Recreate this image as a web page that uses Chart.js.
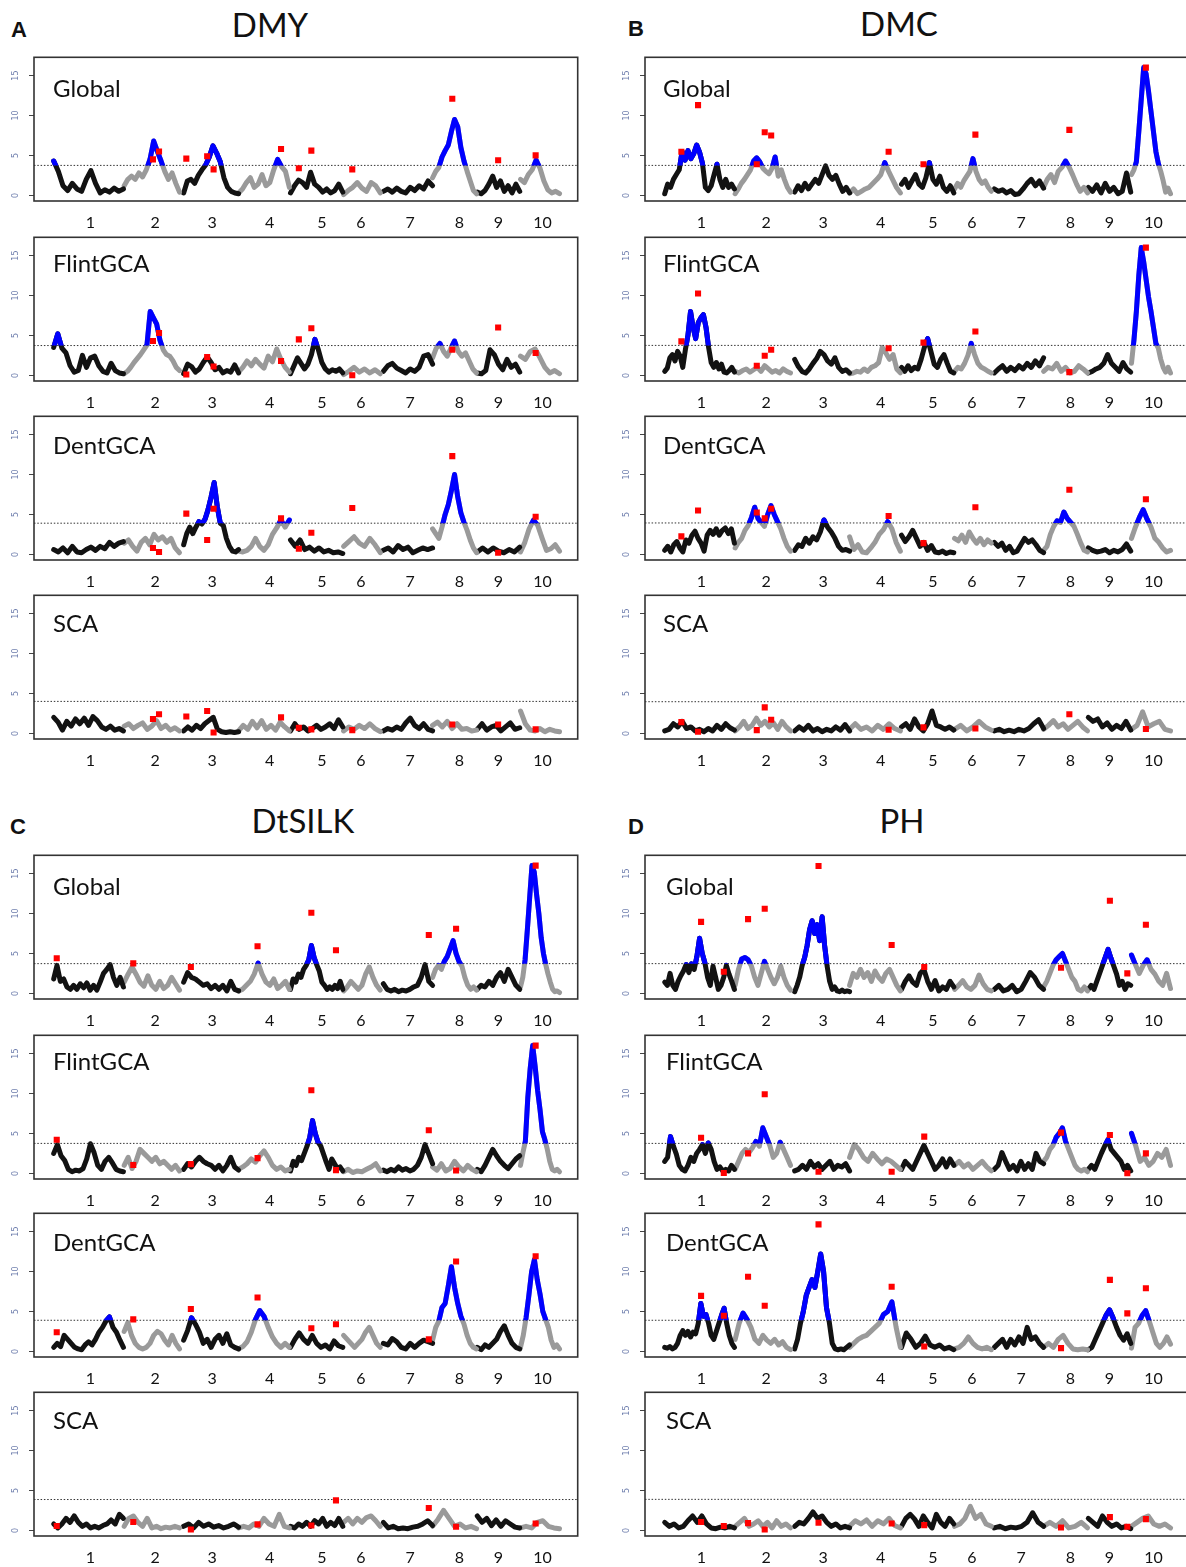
<!DOCTYPE html>
<html><head><meta charset="utf-8">
<script src="https://cdn.jsdelivr.net/npm/chart.js@4.4.1/dist/chart.umd.min.js"></script>
<style>
html,body{margin:0;padding:0;background:#fff;}
#page{position:relative;width:1186px;height:1567px;overflow:hidden;background:#fff;}
canvas{position:absolute;}
.t{position:absolute;transform:translate(-50%,-50%);font-family:Lato,'Open Sans',sans-serif;color:#111;white-space:nowrap;line-height:1;}
.title{font-size:33px;}
.letter{font-family:'Liberation Sans',Arial,sans-serif;font-weight:bold;font-size:22px;}
.pop{position:absolute;transform:translateY(-50%);font-family:Lato,sans-serif;font-size:24px;color:#111;line-height:1;white-space:nowrap;}
</style></head><body><div id="page"></div>
<script>
// ---------- shared axis data ----------
const traits = ['DMY', 'DMC', 'DtSILK', 'PH'];
const panelLetters = ['A', 'B', 'C', 'D'];
const populations = ['Global', 'FlintGCA', 'DentGCA', 'SCA'];
const chromNames = ['1','2','3','4','5','6','7','8','9','10'];
const chromStart = [52, 238, 395, 540, 677, 817, 922, 1052, 1170, 1284];
const chromEnd   = [236, 384, 540, 674, 815, 914, 1052, 1168, 1282, 1387];
const chromLabelPos = [149, 320, 470, 622, 760, 863, 993, 1123, 1226, 1342];
const yTickValues = [0, 5, 10, 15];

// ---------- DMY ----------
const dmyThr = [3.75, 3.73, 3.9, 4.0];
const dmyQtlX = [314, 330, 402, 457, 474, 652, 699, 732, 840, 1104, 1225, 1324];
const dmyGlobalQtl = [4.5, 5.5, 4.6, 4.9, 3.25, 5.8, 3.4, 5.6, 3.25, 12.1, 4.4, 5.0];
const dmyFlintQtl = [4.3, 5.3, 0.1, 2.3, 1.1, 1.8, 4.5, 5.9, 0.0, 3.2, 6.0, 2.8];
const dmyDentQtl = [0.8, 0.3, 5.1, 1.8, 5.7, 4.5, 0.7, 2.7, 5.8, 12.3, 0.2, 4.7];
const dmySCAQtl = [1.8, 2.4, 2.1, 2.8, 0.1, 2.0, 0.7, 0.5, 0.4, 1.1, 1.1, 0.5];
const dmyGlobal = [
[4.3, 3.0, 1.2, 0.6, 1.5, 0.8, 0.5, 2.0, 3.1, 1.5, 0.3, 0.7, 0.4, 0.9, 0.5, 0.8],
[1.2, 2.0, 2.4, 2.0, 2.8, 2.3, 3.2, 4.5, 6.8, 5.5, 4.3, 3.0, 2.0, 2.8, 1.5, 0.4],
[0.3, 1.8, 2.0, 1.5, 2.5, 3.2, 3.8, 4.8, 6.2, 5.3, 4.2, 2.2, 1.0, 0.5, 0.3, 0.2],
[0.3, 0.8, 1.6, 2.2, 1.0, 1.4, 2.6, 1.2, 1.6, 3.2, 4.5, 3.6, 3.0, 1.0],
[0.3, 1.2, 1.9, 1.6, 1.0, 2.9, 1.4, 1.0, 0.4, 0.8, 0.3, 0.6, 1.4, 0.4],
[0.1, 0.6, 1.0, 1.6, 0.9, 0.5, 1.6, 1.2, 0.3],
[0.5, 0.8, 0.4, 0.9, 0.5, 0.3, 1.0, 0.6, 1.2, 0.8, 1.8, 1.2],
[2.2, 3.0, 3.5, 4.8, 5.6, 6.3, 8.0, 9.5, 8.6, 6.0, 4.3, 3.0, 1.8, 0.6, 0.2],
[0.4, 0.2, 0.6, 1.4, 2.4, 1.0, 1.8, 0.5, 1.2, 0.3, 1.4, 0.5],
[2.0, 1.6, 2.6, 3.2, 4.4, 3.4, 1.8, 0.7, 0.3, 0.5, 0.2]
];
const dmyFlint = [
[3.5, 5.2, 3.4, 2.8, 1.2, 0.4, 0.6, 2.5, 1.0, 2.2, 2.4, 1.2, 0.5, 0.3, 1.5, 0.6, 0.3, 0.2],
[0.2, 0.5, 1.0, 1.6, 2.1, 2.6, 3.2, 3.8, 8.0, 7.2, 6.4, 4.4, 3.2, 2.6, 2.4, 1.8, 1.0, 0.6],
[0.2, 1.4, 1.1, 0.4, 0.8, 1.6, 2.3, 1.6, 0.7, 1.0, 0.3, 0.6, 0.4, 1.3, 0.3],
[0.4, 1.0, 1.8, 1.2, 2.0, 1.4, 0.9, 2.4, 1.7, 3.3, 2.0, 1.0, 0.4],
[0.2, 1.2, 2.2, 1.5, 0.8, 1.4, 2.6, 4.5, 3.2, 1.6, 0.8, 0.4, 0.7, 0.5, 0.8, 0.3],
[0.1, 0.5, 1.0, 0.4, 0.8, 0.3, 0.7, 0.2],
[0.5, 1.2, 1.5, 0.9, 0.6, 0.3, 0.8, 0.5, 1.0, 2.4, 2.6, 1.4],
[2.2, 3.4, 4.0, 3.0, 2.4, 3.4, 4.3, 3.0, 2.4, 2.8, 1.8, 0.8, 0.3],
[0.3, 0.2, 0.6, 3.2, 2.6, 1.4, 0.7, 2.0, 1.0, 1.4, 0.4],
[2.4, 2.0, 3.0, 3.3, 2.2, 1.0, 0.3, 0.6, 0.2]
];
const dmyDent = [
[0.6, 0.3, 0.8, 0.2, 1.0, 0.3, 0.2, 0.6, 0.9, 0.5, 1.0, 0.7, 1.5, 1.0, 1.4, 1.6],
[1.4, 1.8, 1.0, 0.4, 1.5, 2.0, 1.2, 2.5, 1.8, 2.2, 1.5, 2.0, 0.8, 0.2],
[1.2, 2.6, 3.4, 2.6, 3.4, 4.1, 3.8, 4.4, 5.6, 7.2, 9.0, 6.0, 3.9, 3.6, 2.0, 1.0, 0.4, 0.3, 0.6],
[0.4, 0.3, 0.5, 1.0, 2.0, 1.0, 0.5, 1.2, 2.5, 3.3, 4.3, 3.4, 4.3],
[1.8, 1.0, 1.8, 0.6, 0.9, 0.4, 0.8, 0.3, 0.5, 0.2, 0.3, 0.1],
[1.0, 1.6, 2.2, 1.4, 1.0, 2.0, 1.2, 0.2],
[0.5, 0.8, 0.3, 1.1, 0.6, 0.9, 0.2, 0.5, 0.8, 0.6, 0.8],
[3.2, 2.6, 2.0, 3.4, 5.0, 6.2, 8.0, 10.0, 7.2, 5.2, 4.0, 3.0, 1.8, 0.8, 0.2],
[0.3, 0.8, 0.3, 0.8, 0.4, 0.2, 0.6, 0.3, 0.9],
[0.3, 1.5, 3.2, 4.3, 3.6, 2.0, 0.5, 0.7, 1.2, 0.4]
];
const dmySCA = [
[2.0, 1.4, 0.4, 1.5, 0.9, 1.8, 1.2, 1.9, 1.0, 2.1, 1.6, 0.8, 0.5, 0.9, 0.4, 0.6, 0.3],
[0.9, 1.2, 0.6, 1.0, 1.3, 0.5, 0.9, 1.6, 0.6, 1.0, 0.4, 0.7, 0.3],
[0.3, 0.8, 0.4, 1.0, 0.6, 1.2, 1.6, 2.0, 0.5, 0.2, 0.1, 0.2, 0.1, 0.2],
[0.3, 1.0, 0.5, 1.5, 0.7, 1.6, 0.5, 1.0, 0.4, 1.4, 0.8, 0.3],
[0.3, 1.2, 0.5, 0.8, 0.3, 0.6, 1.0, 0.5, 0.8, 1.2, 0.6, 1.7, 0.8],
[0.3, 0.8, 0.5, 1.0, 0.6, 1.2, 0.6, 0.2],
[0.3, 0.6, 0.4, 0.8, 0.5, 1.3, 1.9, 1.0, 0.6, 1.2, 0.5, 0.3],
[1.0, 1.4, 0.8, 1.5, 0.6, 1.2, 0.5, 0.6, 0.3, 0.4],
[0.5, 1.2, 0.4, 0.8, 1.0, 0.3, 0.8, 1.3, 0.5, 0.7],
[2.8, 1.2, 0.4, 0.3, 0.6, 0.2, 0.5, 0.3, 0.2]
];

// ---------- DMC ----------
const dmcThr = [3.75, 3.75, 3.93, 3.96];
const dmcQtlX = [96, 140, 295, 316, 333, 643, 735, 872, 1120, 1322];
const dmcGlobalQtl = [5.45, 11.3, 3.9, 7.9, 7.5, 5.45, 3.9, 7.6, 8.2, 16.0];
const dmcFlintQtl = [4.25, 10.25, 1.2, 2.45, 3.2, 3.4, 4.1, 5.5, 0.4, 16.0];
const dmcDentQtl = [2.25, 5.5, 5.25, 4.5, 5.7, 4.8, 1.4, 5.9, 8.1, 6.9];
const dmcSCAQtl = [1.4, 0.2, 0.4, 3.25, 1.7, 0.45, 0.75, 0.6, 2.4, 0.55];
const dmcGlobal = [
[0.2, 1.4, 1.0, 2.0, 2.6, 3.2, 5.5, 4.4, 5.6, 4.6, 5.2, 6.3, 5.4, 4.0, 1.0, 0.6, 1.2, 2.6, 3.9, 2.0, 1.0, 2.0, 1.0, 1.4, 0.8],
[0.2, 0.8, 1.5, 2.0, 2.6, 3.2, 4.3, 4.7, 4.2, 3.4, 3.0, 2.7, 3.4, 4.8, 2.4, 3.2, 2.0, 1.0, 0.4],
[0.4, 1.2, 0.6, 1.5, 0.8, 1.4, 2.0, 1.5, 2.6, 3.7, 2.5, 2.0, 2.5, 1.4, 0.5, 1.0, 0.3],
[0.3, 0.8, 0.2, 0.5, 0.8, 1.0, 1.5, 2.0, 2.6, 4.1, 3.0, 2.0, 1.0, 0.3],
[1.4, 2.0, 1.0, 1.8, 2.6, 1.4, 1.0, 2.2, 4.1, 2.0, 1.4, 2.4, 1.0, 0.5, 1.2, 0.3],
[0.8, 1.5, 1.0, 1.8, 2.4, 3.0, 4.6, 3.0, 2.0, 1.5, 1.8, 1.0, 0.5],
[0.8, 0.5, 0.7, 0.3, 0.6, 0.1, 0.2, 0.8, 1.5, 2.0, 1.2, 1.8, 0.9],
[1.0, 2.0, 2.6, 1.6, 3.0, 3.5, 4.3, 3.5, 2.5, 1.4, 0.5, 1.0, 0.3],
[1.0, 0.5, 1.3, 0.3, 1.5, 0.5, 1.0, 0.2, 0.5, 2.8, 0.4],
[2.6, 3.2, 4.2, 8.0, 12.0, 16.0, 15.2, 13.0, 10.5, 8.0, 5.5, 4.0, 3.0, 1.8, 0.4, 0.9, 0.2]
];
const dmcFlint = [
[0.5, 0.9, 2.2, 2.6, 1.8, 3.0, 2.4, 1.0, 3.2, 5.0, 8.0, 6.0, 4.6, 6.6, 7.2, 7.6, 6.0, 3.5, 1.6, 1.0, 1.6, 0.8, 1.4, 0.4, 0.3, 0.6, 1.0, 0.4],
[0.5, 0.3, 0.6, 0.8, 0.4, 0.7, 1.0, 0.5, 1.2, 0.8, 0.4, 0.6, 0.3, 0.8, 0.5, 0.3],
[2.0, 1.1, 0.5, 0.3, 0.8, 1.5, 2.1, 3.0, 2.6, 1.8, 1.4, 2.2, 1.0, 0.5, 0.7, 0.3],
[0.2, 0.3, 0.5, 0.4, 0.8, 0.5, 1.0, 1.2, 1.6, 3.5, 2.8, 2.0, 2.6, 0.8, 0.3],
[1.0, 0.5, 1.2, 0.6, 1.0, 0.8, 2.0, 3.5, 4.6, 3.0, 1.4, 1.0, 2.0, 2.6, 1.5, 0.5, 0.3],
[0.5, 1.0, 0.8, 1.5, 2.5, 4.0, 2.6, 1.5, 1.0, 0.8, 0.5, 0.3],
[0.3, 0.8, 1.2, 0.5, 1.0, 0.6, 1.2, 0.8, 1.5, 1.0, 1.8, 1.2, 2.2],
[0.5, 1.0, 0.8, 1.5, 0.5, 1.0, 0.3, 0.5, 1.2, 0.8, 0.3],
[0.3, 0.5, 0.8, 1.0, 1.5, 2.6, 1.5, 1.0, 0.5, 1.6, 0.8, 0.4],
[1.5, 4.4, 8.0, 12.5, 16.0, 14.2, 12.0, 9.8, 8.0, 6.0, 4.0, 3.4, 2.0, 1.0, 0.4, 1.0, 0.3]
];
const dmcDent = [
[0.5, 1.0, 0.3, 1.2, 1.6, 0.8, 0.3, 1.8, 1.4, 2.4, 2.9, 2.0, 1.4, 0.4, 2.4, 3.0, 2.5, 3.2, 2.4, 3.0, 3.3, 2.6, 3.2, 1.4],
[0.8, 1.5, 2.0, 3.0, 3.6, 4.6, 5.9, 4.5, 4.0, 3.5, 5.0, 6.1, 5.0, 4.1, 3.2, 2.0, 1.0, 0.4],
[0.5, 1.2, 1.0, 2.0, 1.4, 2.2, 1.8, 2.8, 4.3, 3.4, 2.8, 2.0, 1.0, 0.5, 0.6, 0.4],
[2.2, 0.6, 1.2, 0.3, 0.2, 0.8, 1.5, 2.5, 3.1, 4.1, 3.2, 1.5, 0.4],
[2.4, 1.6, 2.2, 3.0, 2.0, 1.0, 1.5, 0.5, 1.1, 0.3, 0.2, 0.4, 0.1, 0.3, 0.2],
[2.0, 1.7, 2.4, 1.5, 2.8, 2.0, 1.4, 2.0, 1.2, 1.8, 1.4],
[1.5, 1.0, 1.4, 0.5, 1.0, 0.2, 0.4, 1.2, 2.0, 1.5, 1.8, 1.2, 0.5, 0.2],
[0.5, 1.0, 2.5, 3.5, 4.2, 4.0, 5.3, 4.5, 4.0, 3.5, 2.5, 1.4, 0.5, 0.3],
[0.8, 0.5, 0.3, 0.4, 0.6, 0.2, 0.5, 0.3, 0.6, 1.3, 0.4],
[2.0, 3.4, 4.6, 5.6, 4.4, 3.4, 2.0, 1.5, 0.8, 0.3, 0.5]
];
const dmcSCA = [
[0.3, 0.5, 1.2, 0.8, 1.5, 0.6, 0.8, 0.3, 0.5, 0.2, 0.6, 0.3, 1.0, 0.5, 1.2, 0.7, 0.4],
[0.3, 0.8, 1.5, 0.6, 1.0, 1.9, 1.0, 1.5, 0.8, 1.3, 0.5, 1.5, 0.8, 0.3],
[0.3, 0.8, 0.4, 1.0, 0.3, 0.6, 0.2, 0.5, 0.3, 0.8, 0.4, 1.1, 0.3],
[0.5, 1.2, 0.5, 0.8, 0.3, 1.0, 0.5, 1.2, 0.6, 0.3],
[0.8, 1.2, 0.5, 1.8, 0.8, 0.3, 1.2, 2.8, 1.0, 0.8, 0.5, 0.8, 0.4],
[0.5, 1.0, 0.3, 0.8, 1.5, 0.8, 0.4],
[0.3, 0.5, 0.2, 0.4, 0.2, 0.5, 0.3, 0.6, 1.2, 1.7, 0.6],
[0.5, 1.0, 1.6, 0.8, 1.2, 0.5, 1.0, 1.5, 0.8, 0.3],
[2.0, 1.5, 1.8, 0.8, 1.3, 0.5, 1.0, 0.6, 1.5, 0.4],
[0.5, 1.0, 2.7, 0.8, 1.2, 1.5, 0.5, 0.3]
];

// ---------- DtSILK ----------
const dtsThr = [3.72, 3.75, 3.89, 3.86];
const dtsQtlX = [60, 262, 414, 590, 732, 797, 1042, 1114, 1324];
const dtsGlobalQtl = [4.4, 3.75, 3.3, 5.9, 10.1, 5.4, 7.3, 8.1, 16.0];
const dtsFlintQtl = [4.2, 1.05, 1.15, 1.9, 10.4, 0.4, 5.4, 0.35, 16.0];
const dtsDentQtl = [2.4, 4.0, 5.3, 6.75, 2.9, 3.4, 1.5, 11.25, 11.9];
const dtsSCAQtl = [0.55, 1.05, 0.1, 0.75, 0.6, 3.75, 2.8, 0.45, 0.85];
const dtsGlobal = [
[1.8, 3.5, 1.5, 1.8, 0.8, 0.5, 1.0, 0.5, 1.2, 0.7, 1.3, 0.4, 1.0, 0.4, 1.4, 2.5, 3.0, 3.6, 2.0, 1.0, 2.0, 0.8],
[1.4, 2.4, 3.3, 2.4, 1.4, 0.9, 2.2, 1.0, 0.5, 1.5, 0.6, 1.0, 2.0, 1.2, 0.4],
[1.4, 2.6, 2.0, 1.8, 1.4, 1.0, 1.2, 0.6, 1.0, 0.5, 1.0, 0.3, 1.5, 0.5, 0.3],
[0.3, 0.5, 1.0, 1.5, 2.4, 3.8, 2.4, 1.4, 1.0, 1.8, 0.6, 1.0, 1.5, 0.5],
[0.5, 1.8, 1.4, 2.4, 2.0, 3.0, 3.5, 4.2, 6.0, 4.5, 3.6, 2.8, 1.4, 1.0, 0.5, 0.8, 0.5, 1.0, 0.6, 1.5, 0.5],
[0.3, 0.8, 1.5, 1.0, 0.5, 1.0, 2.4, 3.3, 2.0, 1.0, 0.4],
[1.2, 0.5, 0.3, 0.5, 0.2, 0.4, 0.3, 0.5, 0.8, 1.0, 2.0, 3.6, 1.5, 1.0],
[2.0, 3.0, 3.5, 3.0, 4.0, 4.6, 5.6, 6.6, 5.0, 4.0, 3.4, 2.0, 1.0, 0.5, 0.8, 0.4],
[0.5, 1.0, 0.8, 1.5, 1.0, 2.0, 2.6, 1.5, 3.0, 2.0, 1.0, 0.5],
[0.8, 2.0, 4.2, 8.0, 12.0, 16.0, 15.2, 12.4, 10.0, 7.0, 5.0, 3.6, 2.4, 1.4, 0.5, 0.2, 0.3, 0.1]
];
const dtsFlint = [
[2.5, 3.6, 2.2, 1.6, 0.5, 0.2, 0.4, 0.3, 0.6, 1.8, 3.7, 2.6, 1.0, 0.5, 1.5, 2.0, 1.3, 0.5, 0.3, 0.2],
[1.0, 2.0, 0.6, 1.5, 3.0, 2.5, 2.0, 1.5, 2.0, 1.2, 1.5, 1.0, 0.5, 1.0, 0.3],
[0.5, 1.2, 0.8, 1.5, 2.0, 1.5, 1.2, 1.0, 0.5, 1.0, 0.3, 1.0, 2.0, 0.8, 0.4],
[0.5, 0.8, 1.2, 1.8, 1.4, 2.2, 2.8, 2.0, 1.0, 0.5, 0.8, 0.3, 0.5],
[0.3, 1.5, 1.0, 2.0, 1.6, 2.5, 3.4, 4.5, 6.6, 5.0, 3.9, 3.4, 2.4, 1.4, 0.5, 1.8, 1.2, 0.6, 0.8, 0.3],
[0.2, 0.5, 0.1, 0.3, 0.2, 0.5, 0.8, 1.2, 0.3],
[0.4, 0.2, 0.5, 0.3, 0.8, 0.4, 0.6, 0.3, 0.5, 1.0, 2.0, 3.6, 2.4, 1.2],
[0.8, 0.4, 1.2, 0.3, 0.6, 1.5, 0.8, 0.3, 1.0, 0.5, 0.2],
[0.5, 0.2, 1.0, 2.0, 3.0, 2.2, 1.5, 1.0, 0.6, 1.2, 1.8, 2.2],
[1.0, 2.6, 4.0, 9.5, 13.2, 16.0, 13.4, 10.4, 8.0, 5.2, 4.2, 3.0, 1.5, 0.5, 0.3, 0.5, 0.2]
];
const dtsDent = [
[0.5, 1.0, 0.6, 2.0, 1.5, 1.0, 0.5, 0.3, 0.2, 0.8, 1.2, 0.8, 1.5, 2.4, 3.0, 3.8, 4.3, 3.0, 2.4, 1.4, 0.5],
[2.5, 3.6, 2.0, 1.0, 0.5, 0.3, 0.5, 1.0, 2.0, 2.5, 2.2, 1.4, 0.8, 2.0, 1.0, 0.3],
[1.4, 2.6, 4.2, 3.4, 2.4, 1.0, 1.5, 0.5, 1.5, 2.0, 1.0, 2.2, 0.8, 0.5, 0.3],
[0.3, 0.6, 1.2, 2.4, 4.0, 5.1, 4.4, 3.0, 1.8, 1.0, 0.5, 1.0, 0.5],
[0.5, 1.5, 2.3, 1.5, 1.0, 2.0, 1.0, 0.5, 0.8, 0.3, 1.3, 0.7, 0.5],
[2.0, 1.5, 1.0, 0.5, 1.0, 1.5, 2.4, 3.0, 2.0, 1.0, 0.5],
[1.0, 0.8, 1.6, 1.2, 0.5, 0.3, 1.0, 0.5, 1.0, 1.4, 1.2, 1.0],
[1.4, 3.0, 3.8, 5.5, 6.0, 8.2, 10.6, 8.0, 6.0, 4.4, 3.4, 2.0, 1.0, 0.5, 0.3],
[0.5, 0.2, 0.8, 0.5, 1.0, 1.5, 2.5, 3.2, 2.0, 1.0, 0.5, 0.3],
[0.5, 2.0, 4.2, 7.0, 10.0, 11.5, 9.0, 7.2, 5.0, 4.0, 3.0, 1.4, 0.5, 0.8, 0.3]
];
const dtsSCA = [
[0.8, 0.3, 0.8, 1.5, 1.0, 1.8, 1.0, 0.5, 0.8, 0.3, 0.5, 0.3, 0.6, 0.8, 1.3, 0.8, 2.0, 1.5],
[0.5, 1.5, 1.8, 1.0, 0.5, 1.5, 0.3, 0.5, 0.2, 0.4, 0.3, 0.5, 0.3],
[0.5, 0.8, 0.3, 1.0, 0.5, 0.8, 0.4, 0.6, 0.3, 0.5, 0.8, 0.4],
[0.3, 0.5, 0.3, 0.8, 0.5, 1.5, 0.8, 0.5, 2.0, 0.5, 0.3],
[0.5, 0.3, 0.8, 0.5, 1.0, 0.5, 1.2, 0.8, 1.5, 0.5, 1.0, 0.6, 1.5, 0.5],
[1.0, 1.5, 0.8, 1.5, 1.0, 1.6, 1.8, 1.2, 0.5],
[1.0, 0.3, 0.5, 0.2, 0.3, 0.2, 0.4, 0.5, 0.8, 1.2, 0.6],
[0.5, 1.4, 2.5, 1.5, 0.5, 0.8, 0.3, 0.5, 0.2],
[1.8, 1.0, 1.5, 0.6, 1.3, 0.5, 1.2, 0.8, 0.4, 0.3],
[0.3, 0.5, 0.3, 1.0, 1.2, 0.5, 0.3, 0.2]
];

// ---------- PH ----------
const phThr = [3.72, 3.75, 3.89, 3.88];
const phQtlX = [148, 208, 272, 316, 458, 651, 737, 1098, 1227, 1273, 1322];
const phGlobalQtl = [8.95, 2.7, 9.3, 10.6, 15.95, 6.05, 3.3, 3.2, 11.6, 2.5, 8.6];
const phFlintQtl = [4.45, 0.05, 2.5, 9.9, 0.2, 0.2, 4.6, 5.1, 4.8, 0.0, 2.5];
const phDentQtl = [6.95, 4.45, 9.35, 5.7, 15.9, 8.1, 0.6, 0.4, 8.95, 4.75, 7.9];
const phSCAQtl = [1.05, 0.55, 0.9, 0.1, 0.95, 0.85, 0.65, 0.35, 1.65, 0.45, 1.4];
const phGlobal = [
[1.4, 1.0, 2.5, 1.0, 0.5, 1.5, 2.2, 2.8, 3.6, 2.6, 3.7, 3.0, 4.6, 6.9, 5.0, 3.8, 2.0, 1.0, 3.4, 2.0, 0.5, 1.0, 2.0, 3.5, 2.4, 1.5, 0.5],
[1.0, 3.0, 4.3, 4.5, 4.2, 3.4, 2.0, 1.0, 2.5, 4.0, 3.0, 2.0, 1.2, 2.0, 3.4, 2.0, 1.0, 0.4],
[0.2, 1.0, 2.0, 3.5, 4.5, 6.0, 8.0, 9.1, 7.5, 8.6, 6.6, 9.6, 6.0, 3.4, 1.5, 0.5, 0.8, 0.3, 0.2, 0.4, 0.2, 0.3, 0.2],
[1.0, 2.5, 2.0, 3.0, 2.0, 2.6, 1.5, 2.8, 2.0, 1.5, 2.5, 3.0, 2.0, 1.0, 0.3],
[0.5, 1.5, 2.2, 1.4, 1.0, 2.5, 3.0, 1.5, 0.5, 1.6, 0.3, 0.8, 0.5, 1.5, 0.8],
[0.5, 1.0, 1.6, 0.8, 0.5, 1.0, 2.3, 1.2, 0.5, 0.3],
[0.5, 1.0, 0.3, 0.5, 1.0, 0.2, 0.5, 1.5, 2.6, 2.0, 1.0, 0.5],
[0.8, 1.5, 2.5, 3.5, 4.2, 4.6, 5.0, 4.0, 3.0, 2.0, 1.5, 0.5, 0.3, 0.8, 0.3],
[0.5, 1.0, 0.5, 1.5, 2.5, 3.5, 4.5, 5.5, 4.4, 3.4, 2.4, 1.0, 1.5, 0.5, 1.2, 1.0],
[4.8, 3.6, 2.5, 3.5, 4.2, 3.0, 2.4, 1.5, 1.0, 2.5, 0.6]
];
const phFlint = [
[1.5, 2.0, 4.6, 3.4, 2.4, 1.0, 0.5, 0.3, 1.0, 2.0, 1.5, 2.5, 3.0, 3.6, 2.5, 3.8, 3.0, 1.5, 0.5, 0.8, 0.3, 0.5, 0.3, 1.0, 0.5],
[0.5, 1.5, 2.5, 3.0, 2.6, 3.2, 4.0, 3.4, 5.7, 4.6, 3.5, 2.0, 2.5, 3.9, 3.0, 2.0, 1.0],
[0.3, 0.5, 1.0, 0.5, 1.5, 0.8, 1.2, 0.5, 1.0, 1.5, 0.5, 1.0, 0.8, 1.2, 0.3],
[2.0, 3.6, 3.0, 2.0, 1.5, 2.5, 1.8, 1.2, 1.8, 1.5, 1.0, 0.5],
[0.5, 1.5, 1.0, 0.5, 1.5, 2.5, 3.5, 2.5, 1.5, 0.5, 1.0, 1.8, 0.8, 1.8, 1.0],
[1.0, 1.5, 0.8, 1.2, 0.5, 1.0, 1.5, 0.8, 0.3],
[0.5, 1.0, 2.6, 1.5, 0.5, 1.0, 0.3, 1.5, 0.5, 1.2, 0.5, 2.5, 1.5, 1.2],
[1.5, 2.0, 3.0, 3.5, 4.5, 5.0, 5.7, 4.0, 3.0, 2.0, 1.0, 0.5, 0.3, 0.5, 0.2],
[0.5, 1.0, 0.5, 1.5, 2.5, 3.4, 4.2, 3.0, 2.5, 2.0, 1.5, 0.5, 1.0, 0.3],
[5.0, 3.4, 1.5, 2.0, 1.0, 1.5, 2.5, 2.0, 3.0, 1.0]
];
const phDent = [
[0.5, 0.4, 0.6, 0.3, 0.5, 1.0, 2.0, 2.6, 2.0, 2.5, 1.8, 2.4, 2.2, 3.5, 6.0, 4.4, 4.6, 3.5, 2.0, 1.5, 2.5, 3.5, 4.5, 5.4, 3.5, 2.0, 1.0, 0.5],
[1.5, 3.5, 4.8, 4.0, 3.0, 1.5, 1.0, 2.0, 1.4, 1.0, 1.5, 0.8, 1.2, 0.5, 0.2],
[0.3, 1.5, 3.5, 5.0, 7.0, 8.0, 9.0, 8.0, 10.0, 12.2, 10.0, 5.5, 3.6, 1.0, 0.3, 0.2, 0.3, 0.2, 0.5, 0.8],
[0.5, 1.0, 1.5, 1.8, 2.0, 2.5, 3.0, 3.5, 4.6, 5.0, 6.2, 3.0, 0.5],
[0.5, 2.3, 1.5, 0.5, 1.0, 1.9, 0.8, 0.5, 0.8, 0.3, 0.5, 0.2],
[0.3, 0.5, 1.0, 1.8, 1.0, 0.5, 0.3, 0.5, 0.2],
[0.5, 1.0, 1.5, 0.5, 1.5, 0.8, 1.8, 1.0, 3.0, 1.5, 1.8, 1.0, 0.5],
[0.5, 1.0, 0.5, 1.5, 2.0, 1.0, 0.3, 0.2, 0.3, 0.2],
[0.2, 0.5, 1.5, 2.5, 3.5, 4.5, 5.2, 4.2, 3.0, 2.0, 1.4, 2.2, 1.0],
[0.4, 3.0, 3.5, 4.5, 5.1, 3.8, 2.4, 1.0, 0.5, 1.0, 1.8, 0.9]
];
const phSCA = [
[1.0, 0.5, 0.8, 0.3, 0.5, 1.2, 1.8, 1.0, 1.8, 0.8, 0.3, 0.2, 0.4, 0.3, 0.5, 0.3],
[0.5, 1.0, 1.5, 0.5, 0.8, 1.2, 0.5, 1.0, 0.3, 1.2, 0.5, 0.8, 0.3],
[0.5, 1.0, 0.8, 1.5, 2.3, 1.5, 1.8, 1.0, 0.5, 0.8, 0.3, 0.5, 0.3],
[0.5, 1.2, 0.8, 1.3, 0.5, 1.2, 0.8, 1.5, 0.6, 0.3],
[0.5, 1.5, 2.0, 1.4, 0.5, 1.8, 1.0, 0.3, 2.0, 1.0, 0.5, 1.5, 0.8],
[0.5, 0.8, 1.5, 3.0, 1.5, 2.0, 0.8, 0.5],
[0.3, 0.5, 0.2, 0.4, 0.3, 0.5, 1.0, 2.2, 1.0, 0.5],
[0.5, 1.0, 0.5, 1.2, 0.3, 0.5, 1.0, 0.3],
[1.5, 1.0, 0.5, 1.8, 1.0, 0.5, 0.8, 0.3, 0.5, 0.2],
[0.5, 1.0, 1.5, 1.8, 0.8, 0.5, 0.8, 0.3]
];

// ---------- grouping ----------
const traitCurves = [
  [dmyGlobal, dmyFlint, dmyDent, dmySCA],
  [dmcGlobal, dmcFlint, dmcDent, dmcSCA],
  [dtsGlobal, dtsFlint, dtsDent, dtsSCA],
  [phGlobal, phFlint, phDent, phSCA]
];
const traitQtl = [
  [dmyGlobalQtl, dmyFlintQtl, dmyDentQtl, dmySCAQtl],
  [dmcGlobalQtl, dmcFlintQtl, dmcDentQtl, dmcSCAQtl],
  [dtsGlobalQtl, dtsFlintQtl, dtsDentQtl, dtsSCAQtl],
  [phGlobalQtl, phFlintQtl, phDentQtl, phSCAQtl]
];
const traitQtlX = [dmyQtlX, dmcQtlX, dtsQtlX, phQtlX];
const traitThr = [dmyThr, dmcThr, dtsThr, phThr];

// ---------- layout (positions, not data) ----------
const panelBoxLeft = [34, 645, 34, 645];
const panelRowTops = [[57, 237, 416, 595], [57, 237, 416, 595], [855, 1035, 1213, 1392], [855, 1035, 1213, 1392]];
const panelTitlePos = [[270, 24], [899, 23], [303, 820], [902, 820]];
const panelLetterPos = [[19, 30], [636, 29], [18, 827], [636, 827]];
const popLabelDx = [19, 18, 19, 21];
const popLabelDy = [31, 26, 29, 28];
const BOX_W = 544, BOX_H = 144, AXIS_W = 32, AXIS_H = 30, PAD = 4;

const COLORS = { black: '#121212', gray: '#9a9a9a', blue: '#0000ff', red: '#ff0000' };

const boxPlugin = {
  id: 'boxAndClip',
  beforeDatasetDraw(chart, args) {
    const ds = chart.data.datasets[args.index];
    if (ds.clipAbove !== undefined) {
      const a = chart.chartArea;
      const y = chart.scales.y.getPixelForValue(ds.clipAbove);
      chart.ctx.save();
      chart.ctx.beginPath();
      chart.ctx.rect(a.left - 5, a.top, a.right - a.left + 10, y - a.top);
      chart.ctx.clip();
    }
  },
  afterDatasetDraw(chart, args) {
    const ds = chart.data.datasets[args.index];
    if (ds.clipAbove !== undefined) chart.ctx.restore();
  },
  afterDraw(chart) {
    const { ctx, chartArea: a } = chart;
    ctx.save();
    ctx.strokeStyle = '#333';
    ctx.lineWidth = 1.6;
    ctx.strokeRect(a.left, a.top, a.right - a.left, a.bottom - a.top);
    ctx.restore();
  }
};

const page = document.getElementById('page');

function addText(cls, text, x, y) {
  const d = document.createElement('div');
  d.className = cls;
  d.textContent = text;
  d.style.left = x + 'px';
  d.style.top = y + 'px';
  page.appendChild(d);
}

function buildChart(L, T, curves, thr, qx, qy) {
  const cv = document.createElement('canvas');
  const w = AXIS_W + BOX_W + PAD, h = PAD + BOX_H + AXIS_H;
  cv.width = w; cv.height = h;
  cv.style.width = w + 'px'; cv.style.height = h + 'px';
  cv.style.left = (L - AXIS_W) + 'px';
  cv.style.top = (T - PAD) + 'px';
  page.appendChild(cv);

  const datasets = [];
  curves.forEach((vals, c) => {
    const s = chromStart[c], e = chromEnd[c];
    const pts = vals.map((v, i) => ({ x: s + (e - s) * i / (vals.length - 1), y: v }));
    const base = { type: 'line', pointRadius: 0, borderWidth: 5, tension: 0,
      borderJoinStyle: 'round', borderCapStyle: 'round', fill: false };
    datasets.push(Object.assign({}, base, { data: pts, borderColor: c % 2 === 0 ? COLORS.black : COLORS.gray, order: 3 }));
    if (Math.max(...vals) > thr) {
      datasets.push(Object.assign({}, base, { data: pts.map(p => ({ x: p.x, y: p.y })), borderColor: COLORS.blue, order: 1, clipAbove: thr }));
    }
  });
  datasets.push({ type: 'line', data: [{ x: 0, y: thr }, { x: 1435, y: thr }], borderColor: '#333',
    borderWidth: 1, borderDash: [1.5, 1.8], pointRadius: 0, order: 2, fill: false });
  datasets.push({ type: 'scatter', data: qx.map((x, i) => ({ x: x, y: qy[i] })), pointStyle: 'rect',
    pointRadius: 4.3, backgroundColor: COLORS.red, borderWidth: 0, order: 0 });

  new Chart(cv, {
    type: 'line',
    data: { datasets },
    options: {
      responsive: false, animation: false, devicePixelRatio: 1, events: [],
      layout: { padding: { top: PAD, right: PAD, left: 0, bottom: 0 } },
      plugins: { legend: { display: false }, tooltip: { enabled: false } },
      scales: {
        x: {
          type: 'linear', min: 0, max: 1435,
          afterBuildTicks: s => { s.ticks = chromLabelPos.map(v => ({ value: v })); },
          afterFit: s => { s.height = AXIS_H; s.paddingLeft = 0; s.paddingRight = 0; s.paddingTop = 0; s.paddingBottom = 0; },
          ticks: { autoSkip: false, minRotation: 0, maxRotation: 0, padding: 12, color: '#111',
            font: { family: 'Lato', size: 16 }, callback: (v, i) => chromNames[i] },
          grid: { display: false, drawTicks: false }, border: { display: false }
        },
        y: {
          type: 'linear', min: -0.71, max: 17.29,
          afterBuildTicks: s => { s.ticks = yTickValues.map(v => ({ value: v })); },
          afterFit: s => { s.width = AXIS_W; s.paddingTop = 0; s.paddingBottom = 0; s.paddingLeft = 0; s.paddingRight = 0; },
          ticks: { minRotation: 90, maxRotation: 90, crossAlign: 'center', padding: 8, color: '#6b7bab',
            font: { family: 'DejaVu Sans', size: 8 } },
          grid: { drawOnChartArea: false, drawTicks: true, tickLength: 5, color: '#444' },
          border: { display: false }
        }
      }
    },
    plugins: [boxPlugin]
  });
}

for (let p = 0; p < 4; p++) {
  addText('t title', traits[p], panelTitlePos[p][0], panelTitlePos[p][1]);
  addText('t letter', panelLetters[p], panelLetterPos[p][0], panelLetterPos[p][1]);
  for (let r = 0; r < 4; r++) {
    const L = panelBoxLeft[p], T = panelRowTops[p][r];
    buildChart(L, T, traitCurves[p][r], traitThr[p][r], traitQtlX[p], traitQtl[p][r]);
    addText('pop', populations[r], L + popLabelDx[p], T + popLabelDy[r]);
  }
}
</script></body></html>
